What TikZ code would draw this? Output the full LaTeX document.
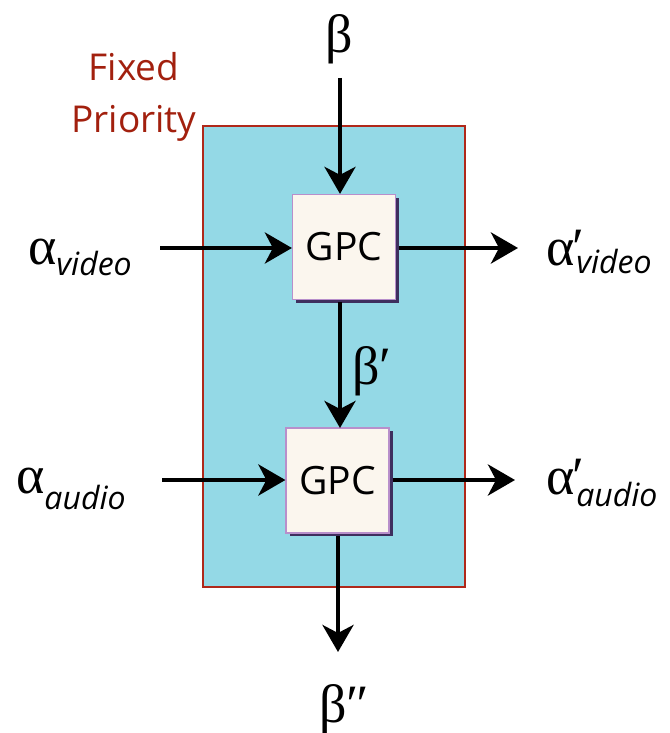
\documentclass[tikz,border=0pt]{standalone}
\usepackage{fontspec}
\setmainfont{Open Sans}
\newfontfamily\grk{Liberation Serif}
\usetikzlibrary{arrows.meta}
\definecolor{bluefill}{HTML}{94D9E6}
\definecolor{redline}{HTML}{B0281A}
\definecolor{boxfill}{HTML}{FBF6EE}
\definecolor{boxline}{HTML}{B88FCB}
\definecolor{shadowc}{HTML}{3E2F5E}
\definecolor{labred}{HTML}{A2200E}
\tikzset{
  arr/.style={line width=4.5pt,-{Stealth[length=27pt,width=31pt,inset=8pt]}},
  gpc/.style={draw=boxline,line width=1.2pt,fill=boxfill,minimum width=103pt,minimum height=105pt,inner sep=0pt,font=\fontsize{39}{44}\selectfont},
  shadowbox/.style={fill=shadowc,minimum width=103pt,minimum height=105pt,inner sep=0pt},
  greek/.style={inner sep=0pt,font=\grk\fontsize{54}{60}\selectfont}
}
\newcommand{\mysub}[2]{\raisebox{-#1pt}{\normalfont\itshape\fontsize{32}{36}\selectfont #2}}
\begin{document}
\begin{tikzpicture}[x=1pt,y=-1pt]
\useasboundingbox (0,0) rectangle (669,733);
\node[draw=redline,line width=1.2pt,fill=bluefill,minimum width=262pt,minimum height=461pt,inner sep=0pt] (prio) at (334,356.5) {};
\node[align=center,text=labred,font=\fontsize{37}{52}\selectfont] (lbl) at (134,97) {Fixed\\Priority};
% boxes
\node[shadowbox] (s1) at (347.5,250) {};
\node[gpc] (g1) at (344,247) {GPC};
\node[shadowbox] (s2) at (341,483.5) {};
\node[gpc] (g2) at (337.5,480.5) {GPC};
% labels
\node[greek,anchor=base] (beta) at (339,53) {β};
\node[greek,anchor=base west] (av) at (28,264) {α\mysub{11}{video}};
\node[greek,anchor=base west] (avo) at (546,265) {α\kern-2pt′\kern-8pt\mysub{8}{video}};
\node[greek,anchor=base west] (aa) at (16,493) {α\mysub{16}{audio}};
\node[greek,anchor=base west] (aao) at (546,494) {α\kern-2pt′\kern-8pt\mysub{12}{audio}};
\node[greek,anchor=base west] (bp) at (352,384) {β′};
\node[greek,anchor=base] (bpp) at (344,722) {β″};
% connectors
\coordinate (bt) at (340,78);
\coordinate (vi) at (160,248);
\coordinate (vo) at (518,248);
\coordinate (ai) at (162,480);
\coordinate (ao) at (515,480);
\coordinate (bb) at (338,652);
\draw[arr] (bt) -- (bt |- g1.north);
\draw[arr] (vi) -- (vi -| g1.west);
\draw[arr] (s1.east |- vo) -- (vo);
\draw[arr] (340,302) -- (340,428);
\draw[arr] (ai) -- (ai -| g2.west);
\draw[arr] (s2.east |- ao) -- (ao);
\draw[arr] (338,536) -- (bb);
\end{tikzpicture}
\end{document}
